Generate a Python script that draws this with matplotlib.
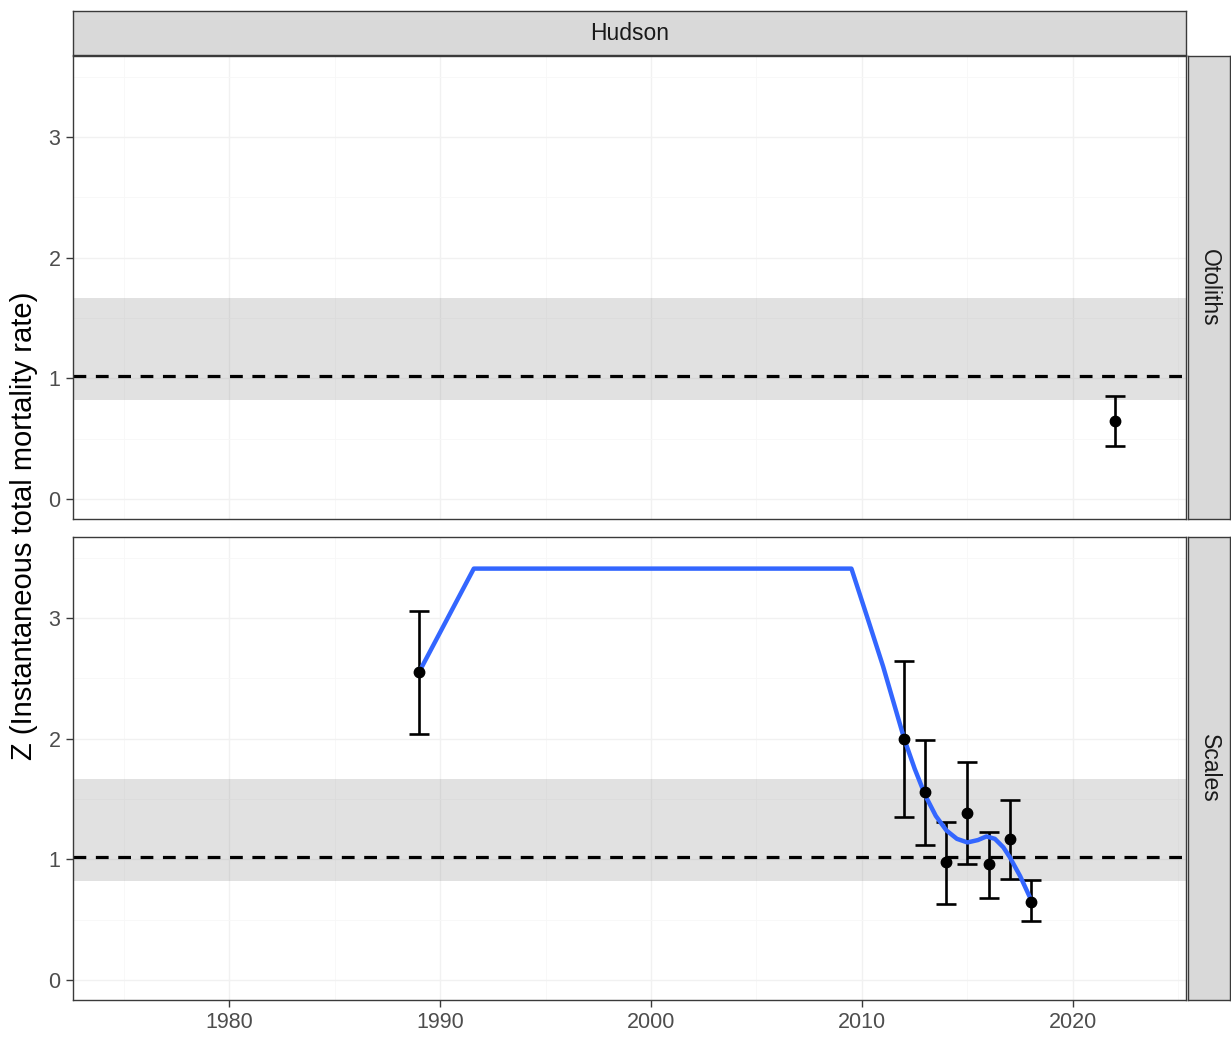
import matplotlib
matplotlib.use("Agg")
import matplotlib.pyplot as plt
from matplotlib.ticker import MultipleLocator

plt.rcParams['font.family'] = ['Liberation Sans', 'DejaVu Sans']

# ---- data ----
strip_top = "Hudson"
panels = ["Otoliths", "Scales"]

oto_years = [2022]
oto_z = [0.65]
oto_lo = [0.44]
oto_hi = [0.85]

sca_years = [1989, 2012, 2013, 2014, 2015, 2016, 2017, 2018]
sca_z = [2.55, 2.00, 1.56, 0.98, 1.38, 0.96, 1.17, 0.65]
sca_lo = [2.04, 1.35, 1.12, 0.63, 0.96, 0.68, 0.84, 0.49]
sca_hi = [3.06, 2.64, 1.99, 1.31, 1.81, 1.23, 1.49, 0.83]

smooth_years = [1989.0, 1991.6, 2009.5, 2010.3, 2011.0, 2012.0, 2012.5, 2013.0,
                2013.5, 2014.0, 2014.5, 2015.0, 2015.5, 2015.9, 2016.3, 2016.7,
                2017.0, 2017.5, 2018.0]
smooth_z = [2.55, 3.41, 3.41, 2.98, 2.60, 2.00, 1.75, 1.53,
            1.36, 1.24, 1.17, 1.14, 1.16, 1.19, 1.17, 1.10,
            1.02, 0.86, 0.67]

ref_z = 1.02
band_lo, band_hi = 0.82, 1.67

x_ticks = [1980, 1990, 2000, 2010, 2020]
y_ticks = [0, 1, 2, 3]
xlim = (1972.6, 2025.36)
ylim = (-0.166, 3.672)

# ---- figure ----
W, H = 1231, 1038
fig = plt.figure(figsize=(W / 100, H / 100), dpi=100)

def fx(px):
    return px / W

def fy(py):
    return 1 - py / H

left, right = 73, 1186
panel_boxes = [(56, 519), (537, 1000)]
border_col = '#3a3a3a'

axes = []
for (top, bot) in panel_boxes:
    ax = fig.add_axes([fx(left), fy(bot), fx(right - left), fy(top) - fy(bot)])
    axes.append(ax)

datasets = [
    (oto_years, oto_z, oto_lo, oto_hi, False),
    (sca_years, sca_z, sca_lo, sca_hi, True),
]

for i, (ax, (yrs, z, lo, hi, has_smooth)) in enumerate(zip(axes, datasets)):
    ax.set_xlim(*xlim)
    ax.set_ylim(*ylim)
    ax.xaxis.set_major_locator(plt.FixedLocator(x_ticks))
    ax.xaxis.set_minor_locator(MultipleLocator(5))
    ax.yaxis.set_major_locator(plt.FixedLocator(y_ticks))
    ax.yaxis.set_minor_locator(MultipleLocator(0.5))
    ax.grid(which='major', color='#f1f1f1', lw=1.0, zorder=0)
    ax.grid(which='minor', color='#f7f7f7', lw=0.6, zorder=0)
    ax.set_axisbelow(True)
    for s in ax.spines.values():
        s.set_color(border_col)
        s.set_linewidth(1.0)
    ax.tick_params(which='major', length=5, width=1, color=border_col,
                   labelsize=15.5, labelcolor='#4d4d4d', pad=4)
    ax.tick_params(which='minor', length=0)
    if i == 0:
        ax.tick_params(axis='x', which='both', length=0, labelbottom=False)

    ax.axhspan(band_lo, band_hi, color='#808080', alpha=0.23, lw=0, zorder=1)
    ax.axhline(ref_z, color='black', lw=2.3, ls=(0, (4, 3)), zorder=2)

    yerr = [[zz - l for zz, l in zip(z, lo)], [h - zz for zz, h in zip(z, hi)]]
    ax.errorbar(yrs, z, yerr=yerr, fmt='none', ecolor='black', elinewidth=1.9,
                capsize=7.5, capthick=1.9, zorder=3)
    if has_smooth:
        ax.plot(smooth_years, smooth_z, color='#3366ff', lw=3.2, zorder=4,
                solid_capstyle='butt', solid_joinstyle='round')
    ax.plot(yrs, z, 'o', color='black', ms=7.5, zorder=5)

    # right strip
    top, bot = panel_boxes[i]
    sax = fig.add_axes([fx(1188), fy(bot), fx(1230 - 1188), fy(top) - fy(bot)])
    sax.set_facecolor('#d9d9d9')
    sax.set_xticks([]); sax.set_yticks([])
    for s in sax.spines.values():
        s.set_color(border_col)
        s.set_linewidth(1.0)
    sax.text(0.5, 0.5, panels[i], rotation=-90, ha='center', va='center',
             fontsize=16.5, color='#1a1a1a', transform=sax.transAxes)

# top strip
tax = fig.add_axes([fx(left), fy(55), fx(right - left), fy(11) - fy(55)])
tax.set_facecolor('#d9d9d9')
tax.set_xticks([]); tax.set_yticks([])
for s in tax.spines.values():
    s.set_color(border_col)
    s.set_linewidth(1.0)
tax.text(0.5, 0.5, strip_top, ha='center', va='center', fontsize=16.5,
         color='#1a1a1a', transform=tax.transAxes)

fig.text(fx(24), fy(526), "Z (Instantaneous total mortality rate)", rotation=90,
         ha='center', va='center', fontsize=21, color='black')

fig.savefig("out.png", dpi=100, facecolor='white')
